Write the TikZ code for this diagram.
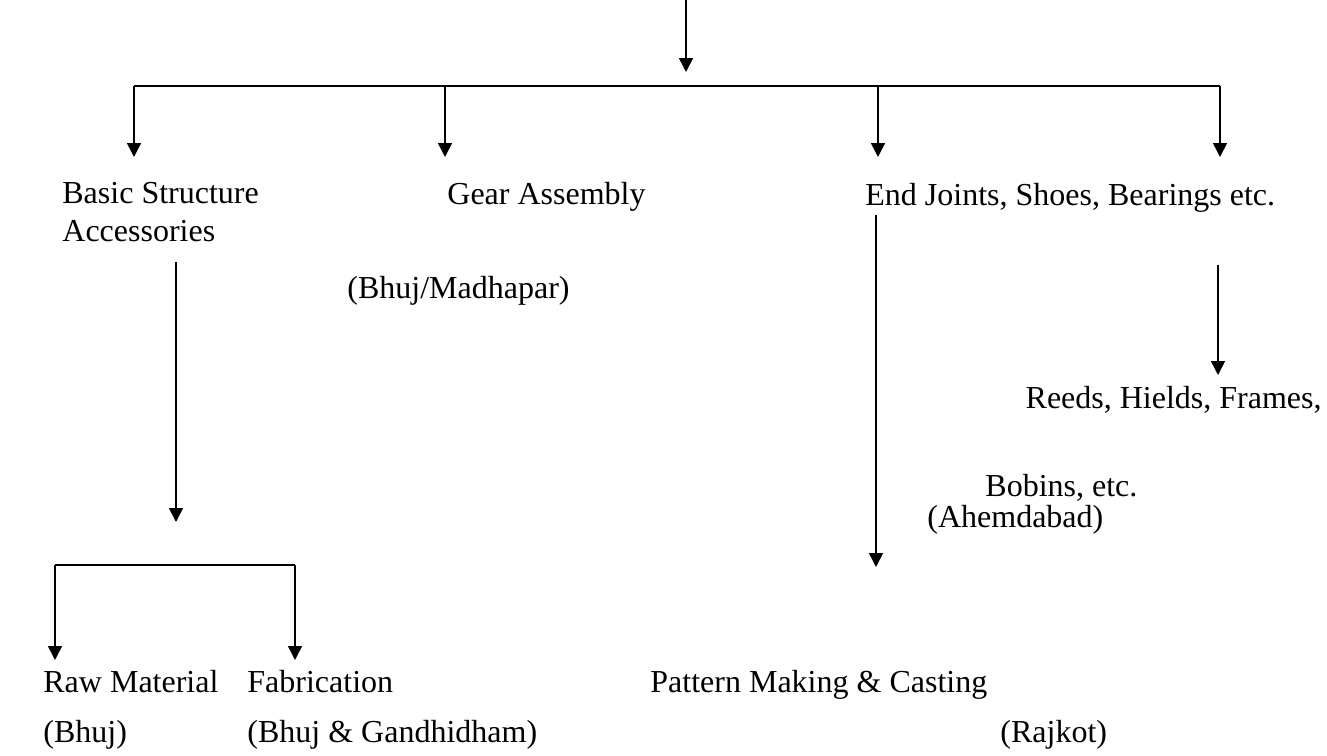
\documentclass[tikz,border=0pt]{standalone}
\usepackage{fontspec}
\setmainfont{Liberation Serif}
\usetikzlibrary{arrows.meta}
\tikzset{
	lbl/.style={anchor=base west, inner sep=0pt, font=\fontsize{16}{19}\selectfont},
	flow/.style={line width=0.8pt, -{Triangle[length=7pt, width=7pt]}},
	bar/.style={line width=0.8pt}
}
\begin{document}
\begin{tikzpicture}[x=0.5pt, y=-0.5pt]
	\useasboundingbox (0,0) rectangle (1327,755);
	% labels, first row
	\node[lbl] (basic) at (62,203) {Basic Structure};
	\node[lbl] (acc) at (62,241) {Accessories};
	\node[lbl] (gear) at (447,204) {Gear Assembly};
	\node[lbl] (madh) at (347,298) {(Bhuj/Madhapar)};
	\node[lbl] (ends) at (865,205) {End Joints, Shoes, Bearings etc.};
	% labels, right side
	\node[lbl, anchor=base east] (reeds) at (1322,408) {Reeds, Hields, Frames,};
	\node[lbl] (bobins) at (985,496) {Bobins, etc.};
	\node[lbl] (ahem) at (927,527) {(Ahemdabad)};
	% labels, bottom row
	\node[lbl] (raw) at (43,692) {Raw Material};
	\node[lbl] (rawloc) at (43,742) {(Bhuj)};
	\node[lbl] (fab) at (247,692) {Fabrication};
	\node[lbl] (fabloc) at (247,742) {(Bhuj \& Gandhidham)};
	\node[lbl] (pat) at (650,692) {Pattern Making \& Casting};
	\node[lbl] (patloc) at (1000,742) {(Rajkot)};

	% connector points
	\coordinate (src) at (686,0);
	\coordinate (srctip) at (686,72);
	\coordinate (busL) at (134,86);
	\coordinate (busR) at (1220,86);
	\coordinate (subtop) at (176,262);
	\coordinate (subtip) at (176,522);
	\coordinate (subL) at (55,565);
	\coordinate (subR) at (295,565);
	\coordinate (endtop) at (876,215);
	\coordinate (endtip) at (876,567);
	\coordinate (reedtop) at (1218,265);
	\coordinate (reedtip) at (1218,375);

	% top level
	\draw[flow] (src) -- (srctip);
	\draw[bar] (busL) -- (busR);
	\foreach \xx in {134,445,878,1220}
		\draw[flow] (\xx,86) -- (\xx,157);

	% basic structure branch
	\draw[flow] (subtop) -- (subtip);
	\draw[bar] (subL) -- (subR);
	\draw[flow] (subL) -- (55,660);
	\draw[flow] (subR) -- (295,660);

	% end joints branch
	\draw[flow] (endtop) -- (endtip);
	\draw[flow] (reedtop) -- (reedtip);
\end{tikzpicture}
\end{document}
